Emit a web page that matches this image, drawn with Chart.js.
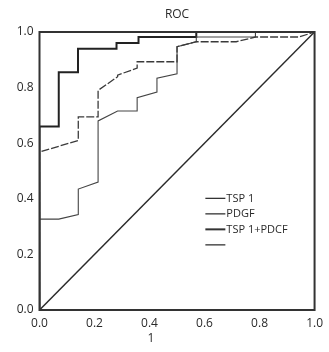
<!DOCTYPE html>
<html><head><meta charset="utf-8">
<script src="https://cdn.jsdelivr.net/npm/chart.js@4.4.0/dist/chart.umd.min.js"></script>
<style>html,body{margin:0;padding:0;background:#fff;}#wrap{width:329px;height:352px;}</style>
</head><body><div id="wrap"><canvas id="c" width="329" height="352"></canvas></div>
<script>
const seriesLabels = ["TSP 1", "PDGF", "TSP 1+PDCF", ""];
const combinedX = [0, 0, 0.07, 0.07, 0.14, 0.14, 0.28, 0.28, 0.36, 0.36, 0.57, 0.57, 1];
const combinedY = [0, 0.66, 0.66, 0.855, 0.855, 0.94, 0.94, 0.96, 0.96, 0.982, 0.982, 1.0, 1];
const tsp1X = [0, 0, 0.141, 0.141, 0.213, 0.213, 0.284, 0.284, 0.355, 0.355, 0.50, 0.50, 0.57, 0.715, 0.785, 0.944, 1];
const tsp1Y = [0, 0.568, 0.61, 0.695, 0.695, 0.79, 0.839, 0.845, 0.87, 0.893, 0.893, 0.947, 0.965, 0.965, 0.982, 0.982, 1];
const pdgfX = [0, 0, 0.07, 0.141, 0.141, 0.213, 0.213, 0.284, 0.355, 0.355, 0.427, 0.427, 0.50, 0.50, 0.57, 0.57, 0.785, 0.785, 1];
const pdgfY = [0, 0.327, 0.327, 0.343, 0.435, 0.46, 0.68, 0.716, 0.716, 0.764, 0.784, 0.834, 0.85, 0.947, 0.965, 0.982, 0.982, 1.0, 1];
const refX = [0, 1];
const refY = [0, 1];
const tickValues = [0, 0.2, 0.4, 0.6, 0.8, 1.0];
const chartTitle = "ROC";
const xTitle = "1";

function pts(xs, ys){ return xs.map((x,i)=>({x:x, y:ys[i]})); }
const FONT = "'Open Sans', sans-serif";
const INK = '#2a2a2a';

const deco = {
  id:'deco',
  afterDatasetsDraw(chart){
    const ctx = chart.ctx, a = chart.chartArea;
    ctx.save();
    ctx.strokeStyle = '#333'; ctx.lineWidth = 2;
    ctx.strokeRect(a.left, a.top, a.right-a.left, a.bottom-a.top);
    ctx.fillStyle = INK;
    ctx.font = "12px " + FONT;
    ctx.textAlign = 'center'; ctx.textBaseline = 'middle';
    ctx.fillText(chartTitle, (a.left+a.right)/2, 15);
    ctx.fillText(xTitle, a.left + 0.405*(a.right-a.left), 339);
    // legend
    const lx = a.left + 0.603*(a.right-a.left);
    let ly = a.top + 0.62*(a.bottom-a.top) - 6;
    ctx.textAlign = 'left';
    ctx.font = "11px " + FONT;
    chart.data.datasets.forEach(ds=>{
      ctx.strokeStyle = '#333'; ctx.lineWidth = ds.borderWidth >= 2 ? 2 : 1.3;
      ctx.setLineDash([]);
      ctx.beginPath(); ctx.moveTo(lx, ly); ctx.lineTo(lx+20, ly); ctx.stroke();
      ctx.fillText(ds.label, lx+21, ly);
      ly += 15.5;
    });
    ctx.restore();
  }
};

new Chart(document.getElementById('c'), {
  type:'scatter',
  data:{ datasets:[
    {label:seriesLabels[0], data:pts(tsp1X,tsp1Y), showLine:true, borderColor:'#3a3a3a', borderWidth:1.3, borderDash:[8,2], pointRadius:0, fill:false},
    {label:seriesLabels[1], data:pts(pdgfX,pdgfY), showLine:true, borderColor:'#444', borderWidth:1.1, pointRadius:0, fill:false},
    {label:seriesLabels[2], data:pts(combinedX,combinedY), showLine:true, borderColor:'#222', borderWidth:2, pointRadius:0, fill:false},
    {label:seriesLabels[3], data:pts(refX,refY), showLine:true, borderColor:'#2a2a2a', borderWidth:1.5, pointRadius:0, fill:false}
  ]},
  options:{
    responsive:false, animation:false, devicePixelRatio:1,
    layout:{padding:{top:32, right:10, left:0, bottom:0}},
    plugins:{legend:{display:false}, tooltip:{enabled:false}},
    scales:{
      x:{type:'linear', min:0, max:1,
        afterBuildTicks(s){ s.ticks = tickValues.map(v=>({value:v})); },
        afterFit(s){ s.height = 42; },
        grid:{display:false, drawTicks:false}, border:{display:false},
        ticks:{padding:6, color:INK, font:{family:FONT, size:12}, maxRotation:0, callback:v=>v.toFixed(1)}},
      y:{type:'linear', min:0, max:1,
        afterBuildTicks(s){ s.ticks = tickValues.map(v=>({value:v})); },
        afterFit(s){ s.width = 39.5; },
        grid:{display:false, drawTicks:false}, border:{display:false},
        ticks:{padding:6, color:INK, font:{family:FONT, size:12}, callback:v=>v.toFixed(1)}}
    }
  },
  plugins:[deco]
});
</script></body></html>
